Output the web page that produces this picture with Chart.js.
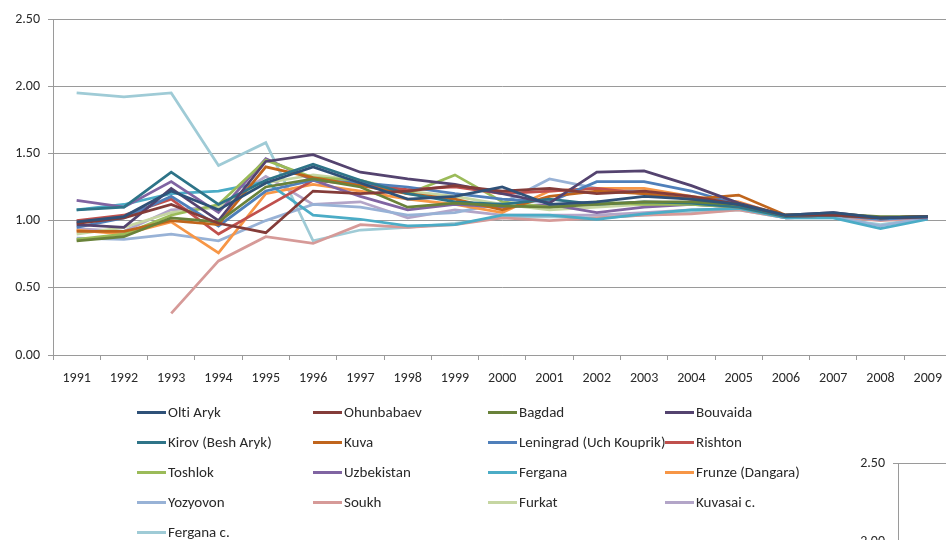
<!DOCTYPE html>
<html>
<head>
<meta charset="utf-8">
<script src="https://cdn.jsdelivr.net/npm/chart.js@4.4.1/dist/chart.umd.min.js"></script>
<style>
  html, body { margin: 0; padding: 0; background: #fff; }
  body { width: 946px; height: 540px; overflow: hidden; position: relative;
         font-family: Carlito, 'Liberation Sans Narrow', 'DejaVu Sans Condensed', sans-serif; }
  #mainWrap { position: absolute; left: 0; top: 0; width: 952px; height: 395px; }
  #sideWrap { position: absolute; left: 840px; top: 444px; width: 130px; height: 430px; }
  #legend { position: absolute; left: 0; top: 0; width: 946px; height: 540px; pointer-events: none; }
  .item { position: absolute; height: 20px; display: flex; align-items: center;
          font-size: 15px; color: #2a2a2a; white-space: nowrap; font-variant-ligatures: none; }
  .swatch { width: 29px; height: 3px; margin-right: 2px; }
</style>
</head>
<body>
<div id="mainWrap"><canvas id="mainChart"></canvas></div>
<div id="sideWrap"><canvas id="sideChart"></canvas></div>
<div id="legend"></div>

<script>
// years on the x axis
const years = ['1991','1992','1993','1994','1995','1996','1997','1998','1999','2000',
               '2001','2002','2003','2004','2005','2006','2007','2008','2009'];

// y axis ticks
const yMin = 0;
const yMax = 2.5;
const yStep = 0.5;

// series names, in legend order
const seriesNames = ['Olti Aryk', 'Ohunbabaev', 'Bagdad', 'Bouvaida',
  'Kirov (Besh Aryk)', 'Kuva', 'Leningrad (Uch Kouprik)', 'Rishton',
  'Toshlok', 'Uzbekistan', 'Fergana', 'Frunze (Dangara)',
  'Yozyovon', 'Soukh', 'Furkat', 'Kuvasai c.', 'Fergana c.'];

const seriesColors = ['#2f5178', '#843c39', '#69823a', '#54436f',
  '#2e7488', '#c0651c', '#4f7fba', '#c0504d',
  '#9bbb59', '#8064a2', '#4bacc6', '#f79646',
  '#98b2d6', '#d69a98', '#c6d6a2', '#b3a5c8', '#9fcbd6'];

// values
const oltiAryk   = [0.99, 1.03, 1.22, 1.08, 1.28, 1.40, 1.28, 1.16, 1.18, 1.25, 1.12, 1.14, 1.18, 1.16, 1.12, 1.04, 1.06, 1.02, 1.03];
const ohunbabaev = [0.98, 1.02, 1.12, 0.98, 0.91, 1.22, 1.20, 1.22, 1.26, 1.22, 1.24, 1.20, 1.22, 1.18, 1.12, 1.04, 1.04, 1.02, 1.03];
const bagdad     = [0.85, 0.88, 1.02, 0.99, 1.25, 1.31, 1.25, 1.10, 1.13, 1.11, 1.10, 1.12, 1.14, 1.14, 1.12, 1.04, 1.05, 1.03, 1.03];
const bouvaida   = [0.97, 0.95, 1.24, 1.00, 1.44, 1.49, 1.36, 1.31, 1.27, 1.20, 1.13, 1.36, 1.37, 1.26, 1.13, 1.04, 1.06, 1.02, 1.03];
const kirov      = [1.08, 1.10, 1.36, 1.12, 1.30, 1.42, 1.30, 1.20, 1.14, 1.12, 1.16, 1.12, 1.14, 1.13, 1.10, 1.03, 1.04, 1.02, 1.03];
const kuva       = [0.92, 0.92, 1.00, 0.97, 1.40, 1.32, 1.26, 1.20, 1.16, 1.08, 1.18, 1.22, 1.20, 1.16, 1.19, 1.04, 1.04, 1.02, 1.03];
const leningrad  = [0.95, 1.02, 1.18, 0.96, 1.22, 1.30, 1.28, 1.25, 1.20, 1.16, 1.14, 1.29, 1.29, 1.22, 1.12, 1.03, 1.04, 1.01, 1.03];
const rishton    = [1.00, 1.04, 1.16, 0.90, 1.10, 1.30, 1.27, 1.23, 1.25, 1.20, 1.22, 1.24, 1.20, 1.16, 1.12, 1.03, 1.04, 1.02, 1.03];
const toshlok    = [0.86, 0.90, 1.04, 1.12, 1.45, 1.32, 1.30, 1.20, 1.34, 1.14, 1.10, 1.14, 1.12, 1.12, 1.10, 1.03, 1.04, 1.02, 1.03];
const uzbekistan = [1.15, 1.10, 1.29, 1.06, 1.46, 1.30, 1.18, 1.08, 1.12, 1.10, 1.12, 1.06, 1.10, 1.12, 1.10, 1.03, 1.04, 1.02, 1.02];
const fergana    = [1.08, 1.12, 1.20, 1.22, 1.29, 1.04, 1.01, 0.96, 0.97, 1.04, 1.04, 1.01, 1.05, 1.08, 1.09, 1.02, 1.02, 0.94, 1.01];
const frunze     = [0.93, 0.90, 0.99, 0.76, 1.20, 1.27, 1.22, 1.16, 1.12, 1.06, 1.22, 1.24, 1.24, 1.18, 1.14, 1.03, 1.04, 1.02, 1.03];
const yozyovon   = [0.87, 0.86, 0.90, 0.85, 1.00, 1.12, 1.10, 1.04, 1.06, 1.13, 1.31, 1.24, 1.22, 1.16, 1.10, 1.02, 1.03, 0.96, 1.02];
const soukh      = [null, null, 0.31, 0.70, 0.88, 0.83, 0.97, 0.95, 0.97, 1.02, 1.00, 1.02, 1.04, 1.05, 1.08, 1.02, 1.03, 1.00, 1.02];
const furkat     = [0.90, 0.95, 1.06, 1.10, 1.28, 1.34, 1.30, 1.22, 1.18, 1.12, 1.08, 1.10, 1.12, 1.12, 1.10, 1.03, 1.04, 1.02, 1.03];
const kuvasai    = [0.94, 0.92, 1.08, 1.10, 1.33, 1.12, 1.14, 1.02, 1.08, 1.04, 1.04, 1.04, 1.06, 1.08, 1.09, 1.02, 1.03, 1.01, 1.02];
const ferganaC   = [1.95, 1.92, 1.95, 1.41, 1.58, 0.85, 0.93, 0.95, 0.98, 1.02, 1.03, 1.02, 1.04, 1.06, 1.08, 1.02, 1.02, 0.97, 1.02];

const seriesValues = [oltiAryk, ohunbabaev, bagdad, bouvaida, kirov, kuva, leningrad, rishton,
  toshlok, uzbekistan, fergana, frunze, yozyovon, soukh, furkat, kuvasai, ferganaC];

const textColor = '#2a2a2a';
const gridColor = '#9a9a9a';
const fontFamily = "Carlito, 'Liberation Sans Narrow', 'DejaVu Sans Condensed', sans-serif";

const datasets = seriesNames.map((name, i) => ({
  label: name,
  data: seriesValues[i],
  borderColor: seriesColors[i],
  backgroundColor: seriesColors[i],
  borderWidth: 2.75,
  pointRadius: 0,
  tension: 0,
  fill: false,
}));

const mainChart = new Chart(document.getElementById('mainChart'), {
  type: 'line',
  data: { labels: years, datasets: datasets },
  options: {
    responsive: true,
    maintainAspectRatio: false,
    animation: false,
    layout: { padding: { top: 19, left: 0, right: 0, bottom: 0 } },
    plugins: { legend: { display: false }, tooltip: { enabled: false } },
    scales: {
      x: {
        offset: true,
        grid: { offset: true, drawOnChartArea: false, drawTicks: true, tickLength: 5, color: gridColor },
        border: { color: gridColor },
        ticks: { color: textColor, font: { family: fontFamily, size: 14 }, padding: 10, maxRotation: 0, autoSkip: false },
        afterFit: (scale) => { scale.height = 40; },
      },
      y: {
        min: yMin,
        max: yMax,
        ticks: { stepSize: yStep, color: textColor, font: { family: fontFamily, size: 14 }, padding: 8,
                 callback: (v) => v.toFixed(2) },
        grid: { color: gridColor, tickLength: 5 },
        border: { color: gridColor },
        afterFit: (scale) => { scale.width = 53; },
      },
    },
  },
});

// legend, 4 columns, row-major like the original
const legendCols = [137, 313, 488, 665];
const legendTop = 402;
const legendRowGap = 30;
const legendBox = document.getElementById('legend');
mainChart.data.datasets.forEach((ds, i) => {
  const item = document.createElement('div');
  item.className = 'item';
  item.style.left = legendCols[i % 4] + 'px';
  item.style.top = (legendTop + Math.floor(i / 4) * legendRowGap) + 'px';
  item.innerHTML = '<span class="swatch" style="background:' + ds.borderColor + '"></span>' + ds.label;
  legendBox.appendChild(item);
});

// the corner of the next chart that shows at bottom right
new Chart(document.getElementById('sideChart'), {
  type: 'line',
  data: { labels: [], datasets: [{ data: [] }] },
  options: {
    responsive: true,
    maintainAspectRatio: false,
    animation: false,
    layout: { padding: { top: 19, left: 0, right: 0, bottom: 0 } },
    plugins: { legend: { display: false }, tooltip: { enabled: false } },
    scales: {
      x: { display: false },
      y: {
        min: yMin,
        max: yMax,
        ticks: { stepSize: yStep, color: textColor, font: { family: fontFamily, size: 14 }, padding: 8,
                 callback: (v) => v.toFixed(2) },
        grid: { color: gridColor, tickLength: 5 },
        border: { color: gridColor },
        afterFit: (scale) => { scale.width = 58; },
      },
    },
  },
});
</script>
</body>
</html>
